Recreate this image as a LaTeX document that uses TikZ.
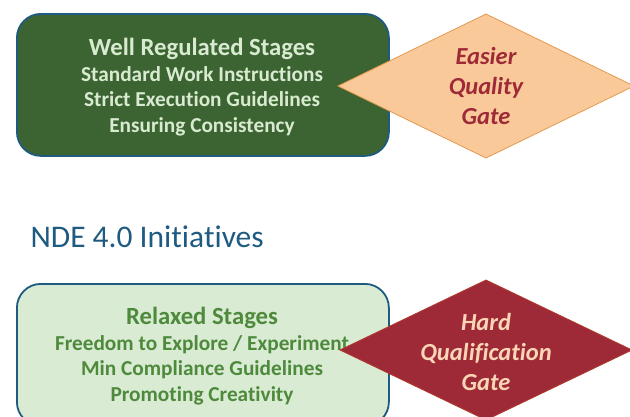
\documentclass[tikz,border=0pt]{standalone}
\usepackage{fontspec}
\setmainfont[Ligatures=NoCommon]{Carlito}
\definecolor{darkgreen}{HTML}{3C6432}
\definecolor{lightgreen}{HTML}{DAEBD4}
\definecolor{paletext}{HTML}{D8EBD0}
\definecolor{greentext}{HTML}{4E8A3C}
\definecolor{edgeblue}{HTML}{1F5A80}
\definecolor{peach}{HTML}{FAC99A}
\definecolor{peachedge}{HTML}{E39A50}
\definecolor{wine}{HTML}{9E2A38}
\definecolor{peachtext}{HTML}{FAD6B6}
\tikzset{
  stagebox/.style={draw=edgeblue, line width=1.8pt, rounded corners=24pt,
    minimum width=372pt, minimum height=142pt, anchor=north west, inner sep=0pt},
  stagetext/.style={align=center, font=\bfseries\fontsize{21.3}{25.5}\selectfont},
  gate/.style={line width=0.8pt},
  gatetext/.style={align=center, font=\bfseries\itshape\fontsize{24.5}{30}\selectfont},
}
\begin{document}
\begin{tikzpicture}[x=1pt,y=-1pt]
\useasboundingbox (0,0) rectangle (630,416);
\clip (0,0) rectangle (630,416);

% regulated stages with the easier gate
\node[stagebox, fill=darkgreen] (top) at (16,13) {};
\node[stagetext, text=paletext] (toptext) at (202,87)
  {{\fontsize{24.7}{27}\selectfont Well Regulated Stages}\\Standard Work Instructions\\Strict Execution Guidelines\\Ensuring Consistency};
\coordinate (g1) at (486,86);
\filldraw[gate, fill=peach, draw=peachedge] (338,86) -- (486,14) -- (634,86) -- (486,158) -- cycle;
\node[gatetext, text=wine] (gate1) at (g1) {Easier\\Quality\\Gate};

% section heading
\node[anchor=west, text=edgeblue, font=\fontsize{31.5}{36}\selectfont] (head) at (27,237) {NDE 4.0 Initiatives};

% relaxed stages with the hard gate
\node[stagebox, fill=lightgreen] (bottom) at (16,283) {};
\node[stagetext, text=greentext] (bottext) at (202,356)
  {{\fontsize{24.7}{27}\selectfont Relaxed Stages}\\Freedom to Explore / Experiment\\Min Compliance Guidelines\\Promoting Creativity};
\coordinate (g2) at (486,352);
\filldraw[gate, fill=wine, draw=wine!80!orange] (340,350) -- (486,280) -- (632,350) -- (486,420) -- cycle;
\node[gatetext, text=peachtext] (gate2) at (g2) {Hard\\Qualification\\Gate};
\end{tikzpicture}
\end{document}
